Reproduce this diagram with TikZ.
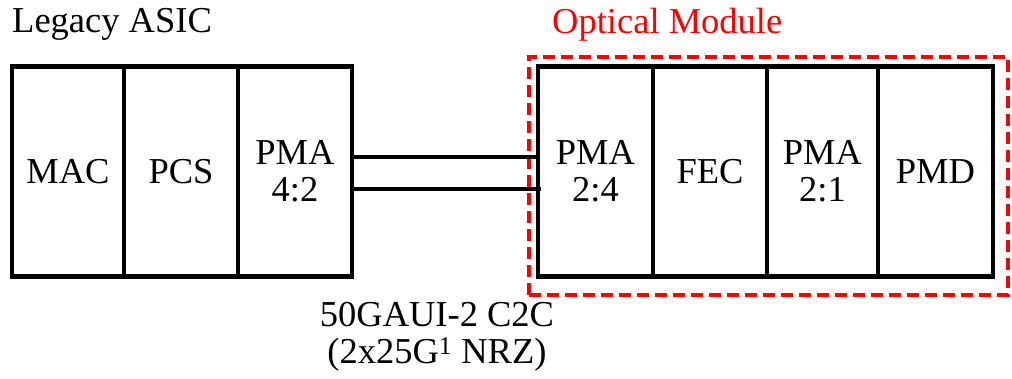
\documentclass[tikz,border=0pt]{standalone}
\usepackage{fontspec}
\setmainfont{Liberation Serif}
\begin{document}
\begin{tikzpicture}[x=1pt,y=-1pt,
  txt/.style={font=\fontsize{36.5}{37}\selectfont},
  blk/.style={draw,line width=4.5pt,minimum height=210pt,inner sep=0pt,align=center,txt},
  link/.style={line width=4.5pt},
  module/.style={draw=red,line width=4pt,dash pattern=on 12pt off 6pt,minimum width=479pt,minimum height=238pt,inner sep=0pt}]
\useasboundingbox (0,0) rectangle (1012,378);
% legacy ASIC
\node[blk,minimum width=112pt] (mac) at (68,171.5) {MAC};
\node[blk,minimum width=114pt] (pcs) at (181,171.5) {PCS};
\node[blk,minimum width=114pt] (pma42) at (295,171.5) {PMA\\4:2};
\node[txt,inner sep=0pt,anchor=base west] (asic) at (12,32) {Legacy ASIC};
% optical module
\node[module] (om) at (768.5,176) {};
\node[txt,red,inner sep=0pt,anchor=base west] (omlabel) at (552,33) {Optical Module};
\node[blk,minimum width=115pt] (pma24) at (595.5,171.5) {PMA\\2:4};
\node[blk,minimum width=114pt] (fec) at (710,171.5) {FEC};
\node[blk,minimum width=111pt] (pma21) at (822.5,171.5) {PMA\\2:1};
\node[blk,minimum width=115pt] (pmd) at (935.5,171.5) {PMD};
% links
\draw[link] (pma42.east |- 0,157) -- (pma24.west |- 0,157);
\draw[link] (pma42.east |- 0,189) -- ([xshift=5pt]pma24.west |- 0,189);
% interface label
\node[txt,inner sep=0pt,align=center] (c2c) at (437,337) {50GAUI-2 C2C\\(2x25G\textsuperscript{1} NRZ)};
\end{tikzpicture}
\end{document}
